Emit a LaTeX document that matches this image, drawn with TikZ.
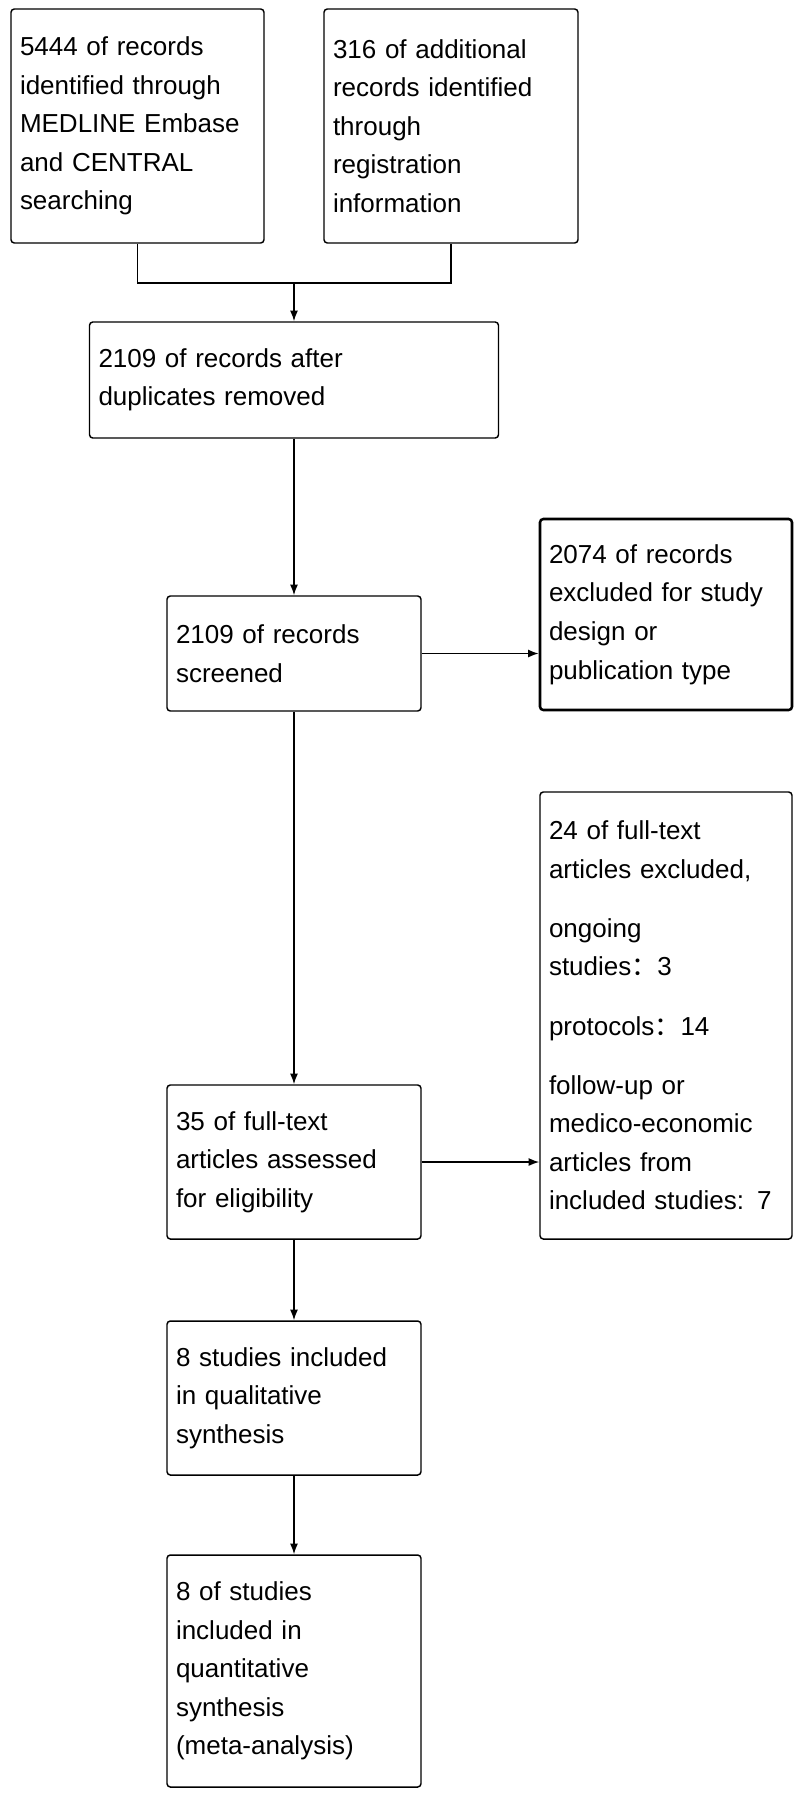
\documentclass[tikz,border=0pt]{standalone}
\usepackage{fontspec}
\setmainfont{Liberation Sans}
\newfontfamily\cjk{Noto Sans CJK SC}
\usetikzlibrary{arrows.meta}

\begin{document}
\begin{tikzpicture}[x=0.75pt,y=0.75pt,yscale=-1,xscale=1,
  box/.style={draw, line width=1.1pt, rounded corners=2.5pt, align=left, inner xsep=6.75pt, inner ysep=0pt, font=\fontsize{19.5}{28.9}\selectfont},
  lnk/.style={line width=1.1pt},
  arr/.style={line width=1.1pt, -{Latex[length=8pt,width=6pt]}}]
\useasboundingbox (0,0) rectangle (800,1800);

% Identification
\node [box, text width=176.25pt, minimum height=175.5pt] (srcA) at (137.5,126) {5444 of records\\identified through\\MEDLINE Embase\\and CENTRAL\\searching};
\node [box, text width=177pt, minimum height=175.5pt] (srcB) at (451,126) {316 of additional\\records identified\\through\\registration\\information};
\node [box, text width=293.25pt, minimum height=87pt] (dedup) at (294,380) {2109 of records after\\duplicates removed};

% Screening
\node [box, text width=177pt, minimum height=86.25pt] (screen) at (294,653.5) {2109 of records\\screened};
\node [box, line width=1.9pt, text width=175.5pt, minimum height=143.25pt] (excl) at (666,614.5) {2074 of records\\excluded for study\\design or\\publication type};

% Eligibility
\node [box, text width=175.5pt, minimum height=335.25pt] (fulltxt) at (666,1015.5) {24 of full-text\\articles excluded,\\[15.5pt]ongoing\\studies{\cjk ：}3\\[15.5pt]protocols{\cjk ：}14\\[15.5pt]follow-up or\\medico-economic\\articles from\\included studies: 7};
\node [box, text width=177pt, minimum height=115.5pt] (assess) at (294,1162) {35 of full-text\\articles assessed\\for eligibility};

% Included
\node [box, text width=177pt, minimum height=115.5pt] (qual) at (294,1398) {8 studies included\\in qualitative\\synthesis};
\node [box, text width=177pt, minimum height=174pt] (quant) at (294,1671) {8 of studies\\included in\\quantitative\\synthesis\\(meta-analysis)};

% Connectors
\coordinate (join) at (294,283);
\draw [lnk] (srcA.south) |- (join) -| (srcB.south);
\draw [arr] (join) -- (dedup.north);
\draw [arr] (dedup.south) -- (screen.north);
\draw [arr] (screen.east) -- (screen.east -| excl.west);
\draw [arr] (screen.south) -- (assess.north);
\draw [arr] (assess.east) -- (assess.east -| fulltxt.west);
\draw [arr] (assess.south) -- (qual.north);
\draw [arr] (qual.south) -- (quant.north);

\end{tikzpicture}
\end{document}
